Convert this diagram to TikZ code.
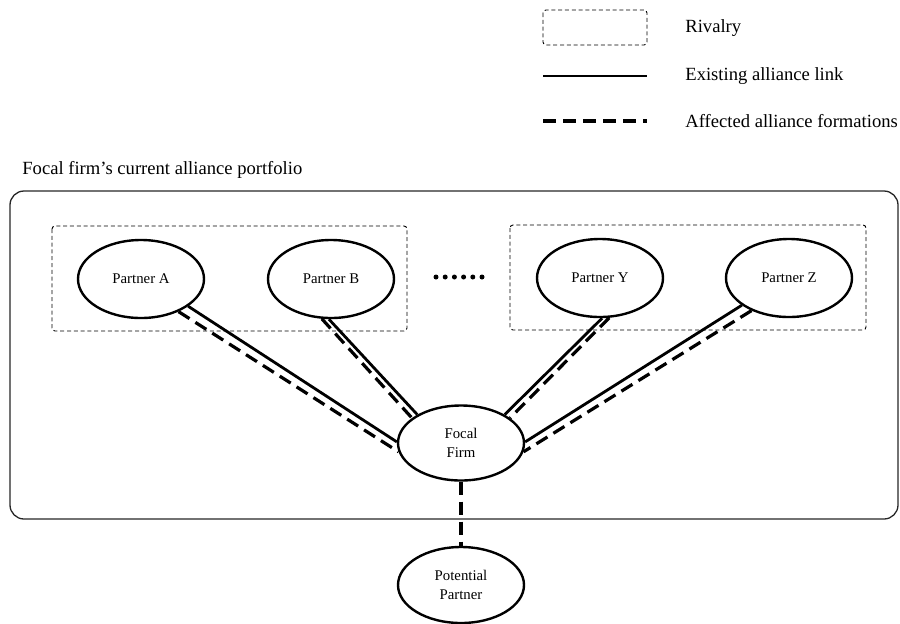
\documentclass[tikz,border=0pt]{standalone}
\usepackage{fontspec}
\setmainfont{Liberation Serif}
\usepackage{tikz}
\usetikzlibrary{shapes.geometric,positioning}
\newcommand\PxUnit{0.5pt}
\tikzset{
  partner/.style={
    shape = ellipse,
    draw,
    line width = 1.2pt,
    inner sep = 0pt,
    minimum width = 63pt,
    minimum height = 39pt,
    align = center,
    font = \fontsize{7.4}{9.7}\selectfont
  },
  link/.style={
    line width = 1.4pt
  },
  affected/.style={
    line width = 1.6pt,
    dash pattern = on 6.5pt off 3.5pt
  },
  rivalry/.style={
    draw,
    line width = 0.45pt,
    dash pattern = on 2pt off 1.4pt,
    rounded corners = 1.5pt
  },
  portfolio/.style={
    draw = black!85,
    line width = 0.65pt,
    rounded corners = 7pt
  },
  legtext/.style={
    anchor = west,
    inner sep = 0pt,
    font = \fontsize{9.3}{11}\selectfont
  }
}
\begin{document}
\begin{tikzpicture}[x=\PxUnit, y=-\PxUnit]
    \useasboundingbox (0,0) rectangle (900,623);
    % legend
    \draw[rivalry] (543,10) rectangle (647,45);
    \node[legtext] (lgRiv) at (685,28) {Rivalry};
    \coordinate (lgLinkA) at (543,76);
    \coordinate (lgLinkB) at (647,76);
    \draw[link] (lgLinkA) -- (lgLinkB);
    \node[legtext] (lgLink) at (685,76) {Existing alliance link};
    \coordinate (lgAffA) at (543,121);
    \coordinate (lgAffB) at (647,121);
    \draw[affected] (lgAffA) -- (lgAffB);
    \node[legtext] (lgAff) at (685,121) {Affected alliance formations};

    % portfolio
    \node[legtext] (title) at (22,170) {Focal firm’s current alliance portfolio};
    \draw[portfolio] (10,191) rectangle (898,519);
    \draw[rivalry] (52,226) rectangle (407,331);
    \draw[rivalry] (510,225) rectangle (866,330);

    \node[partner] (pA) at (141,279) {Partner A};
    \node[partner] (pB) at (331,279) {Partner B};
    \node[partner] (pY) at (600,278) {Partner Y};
    \node[partner] (pZ) at (789,278) {Partner Z};
    \foreach \i in {0,...,5}
        \fill (436+9.2*\i,277) circle[radius=1.25pt];

    \node[partner, minimum height=37.5pt] (focal) at (461,443) {Focal\\Firm};
    \node[partner, minimum height=38pt] (pot) at (461,585) {Potential\\Partner};

    % links
    \draw[link] (pA.-30) -- (focal.179);
    \draw[affected] (pA.-41) -- (focal.188);
    \draw[link] (pB.-93) -- (focal.147);
    \draw[affected] (pB.-103) -- (focal.153);
    \draw[link] (pY.-87) -- (focal.33);
    \draw[affected] (pY.-77) -- (focal.27);
    \draw[link] (pZ.210) -- (focal.1);
    \draw[affected] (pZ.221) -- (focal.-8);
    \draw[affected] (focal.south) -- (pot.north);
\end{tikzpicture}
\end{document}
